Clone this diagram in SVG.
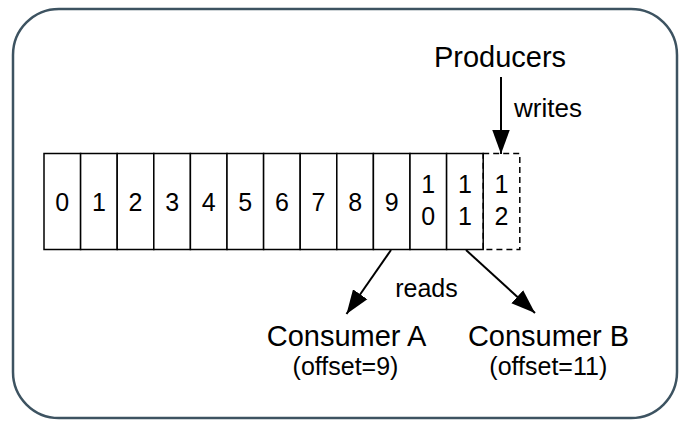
<svg xmlns="http://www.w3.org/2000/svg" width="683" height="421" viewBox="0 0 683 421">
<defs>
<style>
.t{font-family:"Liberation Sans",Arial,sans-serif;fill:#000;text-anchor:middle}
.cell{fill:#fff;stroke:#000;stroke-width:1.5}
.dash{fill:none;stroke:#000;stroke-width:1.5;stroke-dasharray:6,4}
.conn{stroke:#000;stroke-width:2;fill:none}
</style>
<marker id="ah" markerUnits="userSpaceOnUse" markerWidth="24" markerHeight="18" viewBox="0 0 22 16" refX="22" refY="8" orient="auto">
<path d="M0,0 L22,8 L0,16 Z" fill="#000"/>
</marker>
</defs>
<rect width="683" height="421" fill="#fff"/>
<rect id="frame" x="13" y="9" width="664" height="409" rx="46" ry="46" fill="#fff" stroke="#3d5361" stroke-width="2.5"/>
<g id="log">
<rect class="cell" x="44" y="153.5" width="36.6" height="96"/>
<rect class="cell" x="80.6" y="153.5" width="36.6" height="96"/>
<rect class="cell" x="117.2" y="153.5" width="36.6" height="96"/>
<rect class="cell" x="153.8" y="153.5" width="36.6" height="96"/>
<rect class="cell" x="190.4" y="153.5" width="36.6" height="96"/>
<rect class="cell" x="227" y="153.5" width="36.6" height="96"/>
<rect class="cell" x="263.6" y="153.5" width="36.6" height="96"/>
<rect class="cell" x="300.2" y="153.5" width="36.6" height="96"/>
<rect class="cell" x="336.8" y="153.5" width="36.6" height="96"/>
<rect class="cell" x="373.4" y="153.5" width="36.6" height="96"/>
<rect class="cell" x="410" y="153.5" width="36.6" height="96"/>
<rect class="cell" x="446.6" y="153.5" width="36.6" height="96"/>
<rect class="dash" x="483.2" y="153.5" width="36.6" height="96"/>
<g font-size="25">
<text class="t" x="62.3" y="211">0</text>
<text class="t" x="98.9" y="211">1</text>
<text class="t" x="135.5" y="211">2</text>
<text class="t" x="172.1" y="211">3</text>
<text class="t" x="208.7" y="211">4</text>
<text class="t" x="245.3" y="211">5</text>
<text class="t" x="281.9" y="211">6</text>
<text class="t" x="318.5" y="211">7</text>
<text class="t" x="355.1" y="211">8</text>
<text class="t" x="391.7" y="211">9</text>
<text class="t" x="428.3" y="193">1</text>
<text class="t" x="428.3" y="225">0</text>
<text class="t" x="464.9" y="193">1</text>
<text class="t" x="464.9" y="225">1</text>
<text class="t" x="501.5" y="193">1</text>
<text class="t" x="501.5" y="225">2</text>
</g>
</g>
<g id="producers">
<text class="t" x="500" y="67" font-size="29">Producers</text>
</g>
<g id="consumerA">
<text class="t" x="346.5" y="346" font-size="29">Consumer A</text>
<text class="t" x="345.5" y="375" font-size="25">(offset=9)</text>
</g>
<g id="consumerB">
<text class="t" x="548.5" y="346" font-size="29">Consumer B</text>
<text class="t" x="548.3" y="375" font-size="25">(offset=11)</text>
</g>
<g id="connectors">
<line class="conn" x1="501" y1="77" x2="501" y2="154" marker-end="url(#ah)"/>
<text class="t" x="548" y="117" font-size="26">writes</text>
<line class="conn" x1="391" y1="250" x2="346.5" y2="314" marker-end="url(#ah)"/>
<line class="conn" x1="466" y1="250" x2="535" y2="313" marker-end="url(#ah)"/>
<text class="t" x="426.5" y="297" font-size="25">reads</text>
</g>
</svg>
